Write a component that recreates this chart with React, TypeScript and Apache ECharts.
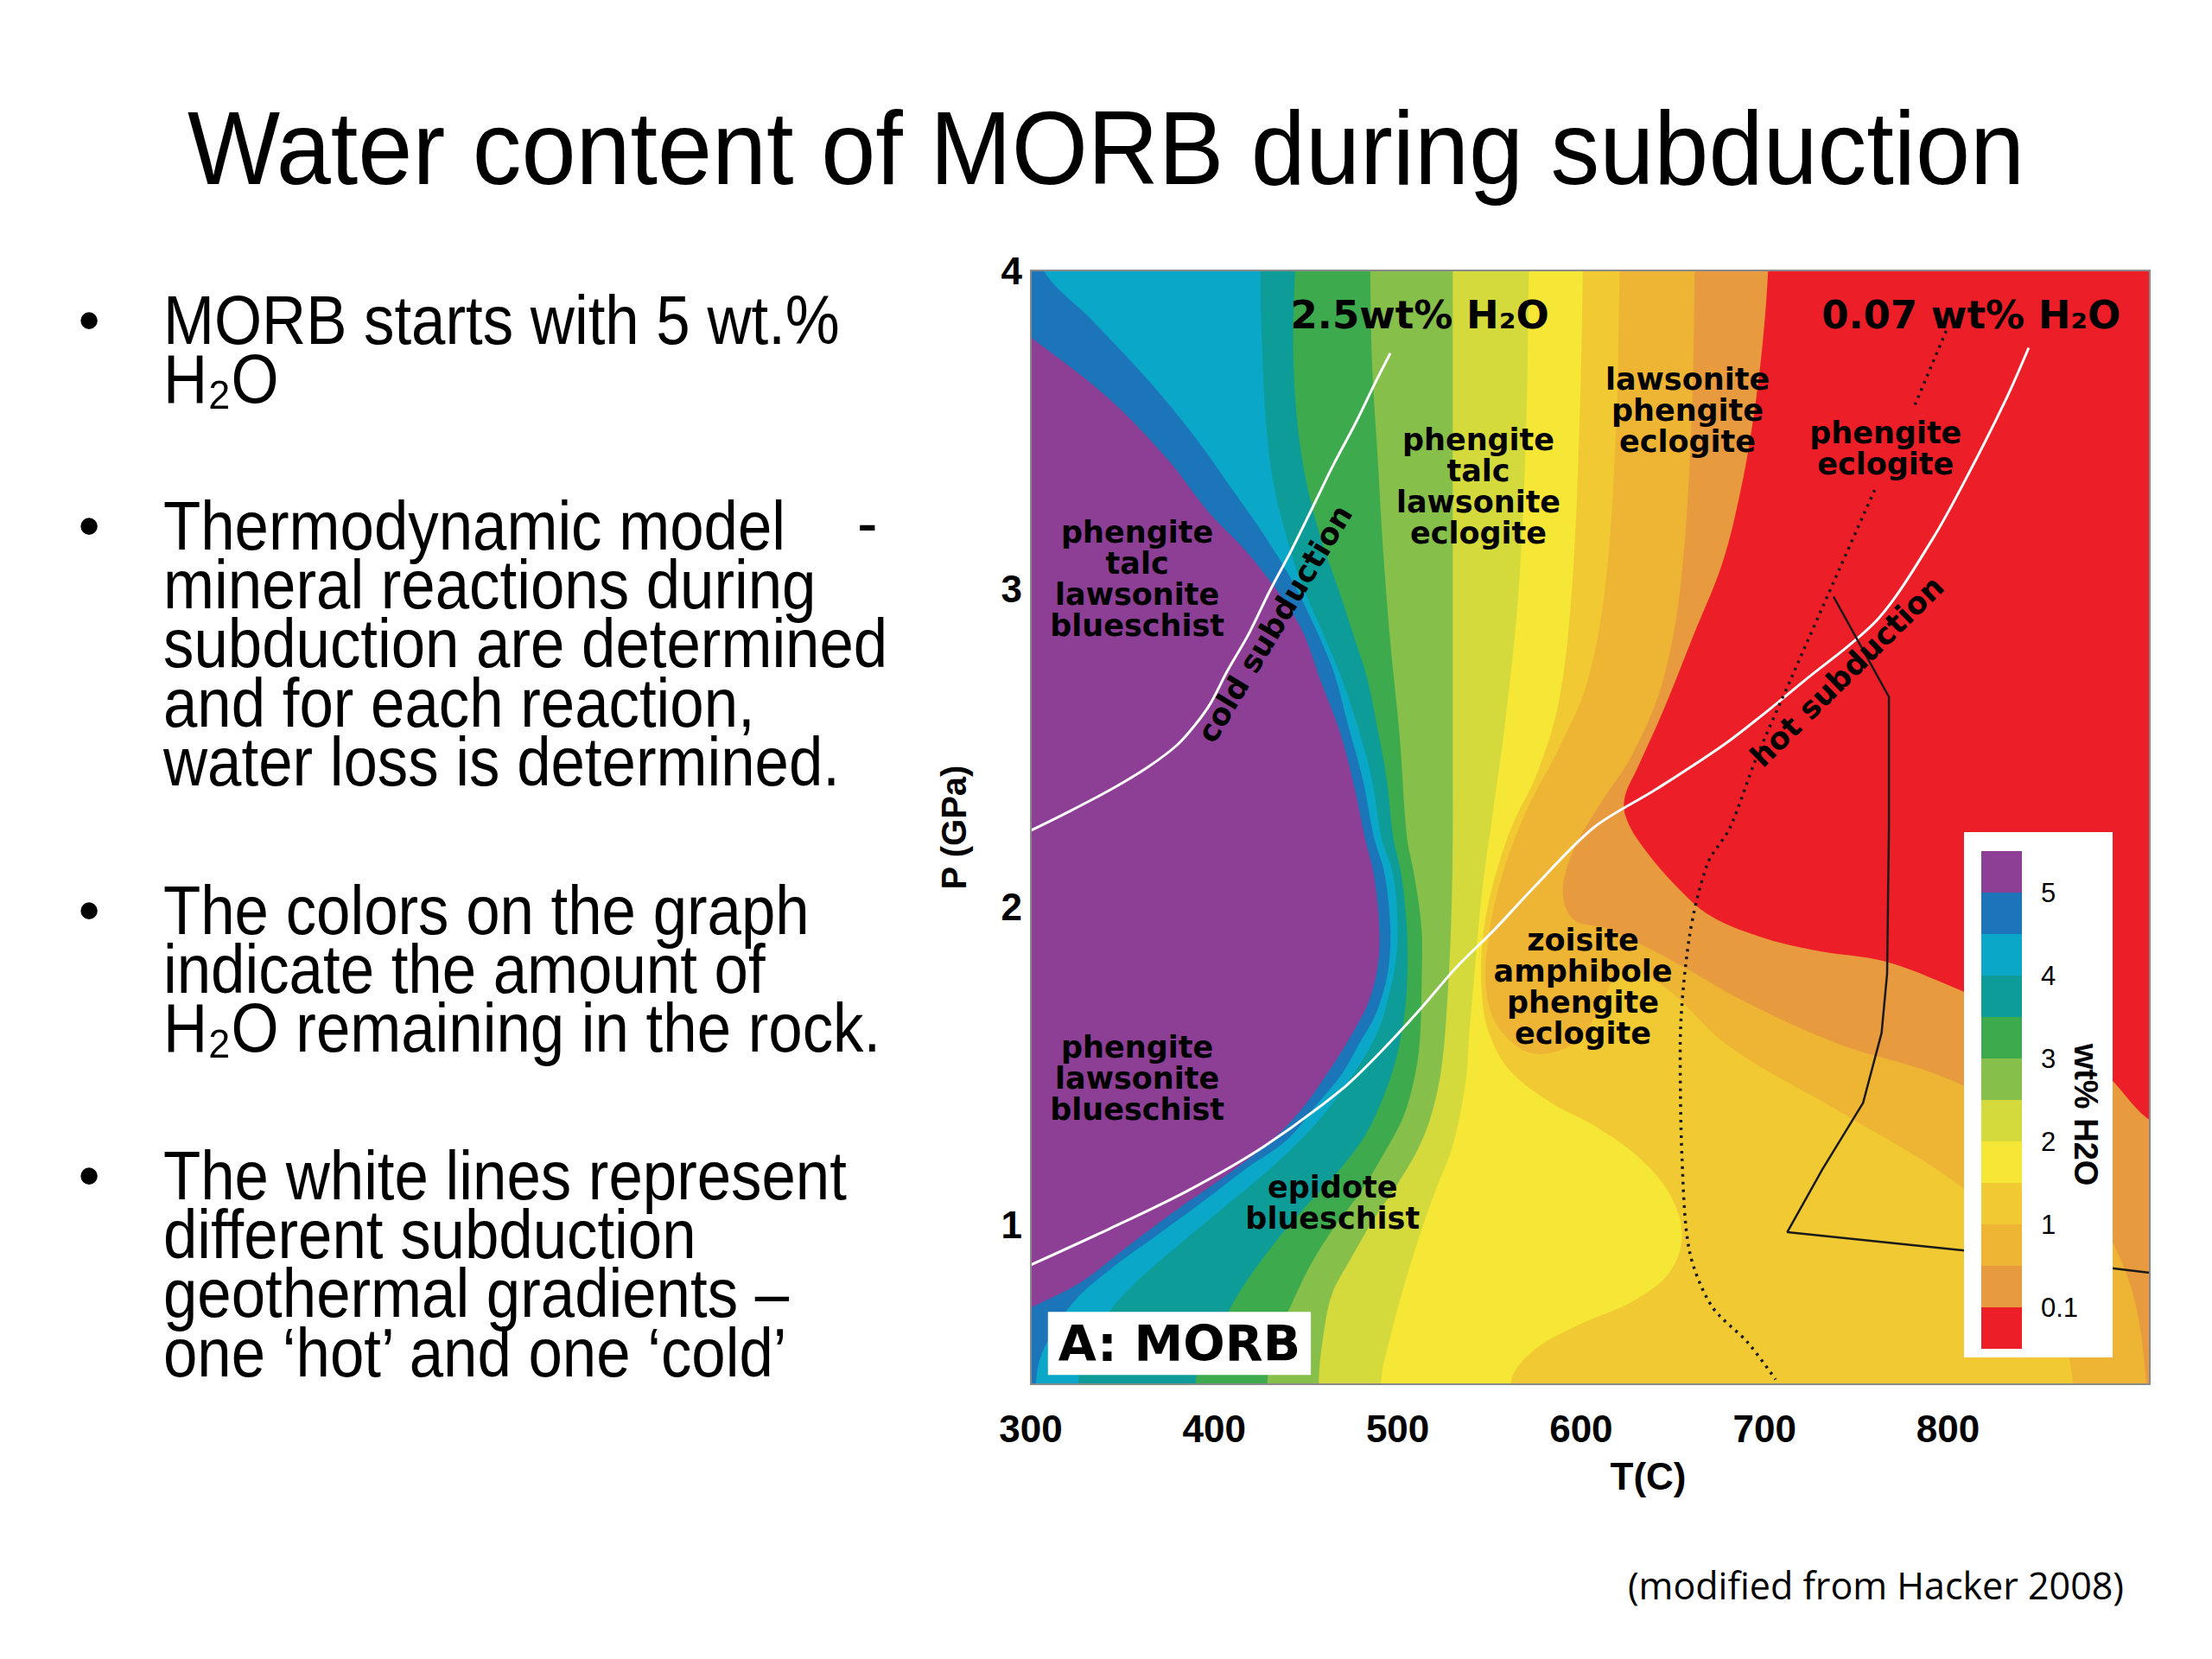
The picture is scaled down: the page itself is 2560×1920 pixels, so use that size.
import React, { useEffect, useRef } from 'react';
import * as echarts from 'echarts';

// ---------------- axes ----------------
const T_MIN = 300;
const T_MAX = 910;
const P_MIN = 0.5;
const P_MAX = 4.0;
const xTickLabels = [300, 400, 500, 600, 700, 800];
const yTickLabels = [1, 2, 3, 4];

// ---------------- colour bands (wettest -> driest) ----------------
const bandColors = [
  '#8D3E95', // purple  (>5)
  '#1B75B8', // dark blue
  '#0BA7C8', // cyan
  '#0E9C98', // teal
  '#3DAA4E', // green
  '#86BF4A', // light green
  '#D5DA3C', // yellow green
  '#F6E636', // yellow
  '#F1C932', // gold
  '#EEB535', // orange gold
  '#E89A3E', // orange
  '#EC1E27', // red (<0.1)
];
const legendTickLabels = ['5', '4', '3', '2', '1', '0.1'];
const legendTickBoundary = [1, 3, 5, 7, 9, 11];

// ---------------- band boundaries [T (C), P (GPa)] ----------------
const purpleEdge = [[300,3.79],[342,3.6],[374,3.41],[397,3.24],[420,3.1],[446,2.89],[458,2.71],[469,2.54],[477,2.36],[482,2.22],[487,2.1],[490,1.93],[489,1.81],[484,1.7],[475,1.6],[462,1.48],[447,1.36],[430,1.26],[405,1.15],[380,1.05],[352,0.93],[327,0.82],[300,0.74]];
const darkBlueEdge = [[306,4.01],[334,3.84],[364,3.655],[389,3.48],[410,3.31],[427,3.17],[442,3.03],[454,2.89],[465,2.74],[473,2.57],[481,2.4],[487,2.22],[493,2.1],[496,1.93],[495,1.81],[492,1.73],[487,1.65],[480,1.58],[469,1.47],[456,1.38],[440,1.27],[418,1.18],[393,1.07],[368,0.965],[343,0.86],[322,0.75],[307,0.61],[303,0.515]];
const cyanEdge = [[425,4.01],[426,3.77],[428,3.54],[432,3.34],[440,3.15],[448,3.01],[458.5,2.87],[469,2.725],[478.5,2.56],[486,2.4],[491,2.22],[497.5,2.1],[500,1.93],[498.5,1.81],[495,1.72],[490,1.62],[482,1.53],[471,1.435],[458.5,1.34],[444,1.25],[425,1.15],[404,1.05],[381,0.94],[360,0.835],[343,0.73],[330,0.61],[326,0.515]];
const tealEdge = [[444,4.01],[443,3.77],[445,3.54],[450,3.34],[458.5,3.15],[467,3.01],[475,2.87],[483,2.725],[489,2.56],[494,2.4],[497.5,2.22],[502,2.1],[505,1.93],[505,1.75],[503,1.635],[499,1.52],[492,1.4],[482,1.28],[467,1.165],[448,1.047],[431,0.93],[416,0.81],[404,0.69],[393,0.576],[390,0.515]];
const greenEdge = [[485,4.01],[486,3.71],[489,3.42],[492,3.125],[496,2.83],[501,2.54],[505,2.22],[509,2.1],[513,1.93],[513,1.75],[512,1.576],[509,1.46],[503,1.34],[492,1.22],[480,1.106],[465,0.99],[452,0.87],[442,0.75],[433,0.635],[429,0.515]];
const lightGreenEdge = [[530,4.01],[530,3.5],[530,3.0],[530,2.5],[530,2.2],[529,1.93],[527,1.7],[524,1.5],[519,1.36],[512,1.25],[500,1.13],[486,1.01],[474,0.89],[464,0.78],[459,0.635],[457,0.515]];
const yellowGreenEdge = [[571.5,4.01],[570,3.5],[566,3.0],[559,2.6],[552,2.3],[546,2.05],[542,1.8],[539,1.6],[537,1.45],[530,1.25],[520,1.1],[511,0.95],[503,0.8],[496,0.65],[491,0.515]];
const yellowEdge = [[601,4.01],[599,3.5],[595,3.0],[588,2.65],[576,2.42],[562,2.25],[551,2.05],[546,1.88],[546,1.72],[550,1.6],[562,1.48],[585,1.38],[605,1.32],[630,1.22],[648,1.1],[655,0.97],[648,0.85],[628,0.76],[600,0.69],[575,0.61],[562,0.515]];
const goldEdge = [[621,4.01],[619,3.5],[613,3.0],[603,2.7],[588,2.5],[570,2.3],[557,2.1],[550,1.92],[548,1.75],[555,1.62],[573,1.54],[596,1.57],[610,1.68],[622,1.8],[645,1.75],[681,1.56],[740,1.36],[800,1.15],[840,0.95],[860,0.7],[868,0.515]];
const orangeEdge = [[662,4.01],[660,3.5],[654,3.0],[644,2.7],[628,2.48],[610,2.32],[596,2.18],[590,2.05],[596,1.96],[615,1.93],[650,1.83],[690,1.7],[740,1.57],[800,1.46],[850,1.3],[880,1.05],[900,0.8],[908,0.515]];
const redEdge = [[702,4.01],[699,3.775],[694,3.54],[687,3.31],[677,3.08],[661,2.85],[645,2.62],[631,2.44],[624,2.35],[624,2.29],[631,2.21],[651,2.07],[671,1.97],[701,1.9],[731,1.86],[765,1.83],[802,1.75],[852,1.62],[885,1.48],[910,1.33]];

// ---------------- lines ----------------
const coldSubduction = [[300,2.24],[321,2.3],[344,2.37],[364,2.44],[380,2.51],[390,2.575],[398,2.64],[407,2.74],[419,2.86],[430,2.99],[442,3.12],[454,3.26],[465,3.39],[477,3.52],[488,3.65],[496,3.74]];
const hotSubduction = [[300,0.875],[342.7,0.988],[384.8,1.106],[427,1.247],[469,1.424],[490,1.54],[511,1.67],[532,1.81],[553,1.93],[574,2.06],[607,2.25],[641,2.37],[681,2.523],[721.5,2.71],[762,2.906],[792,3.16],[812,3.37],[832,3.6],[844,3.757]];
const solidBlackLine = [[737.6,2.975],[767.8,2.66],[767.8,2.25],[766.8,1.79],[763.8,1.604],[753.7,1.384],[731.5,1.175],[712.4,0.978],[809,0.92],[910,0.85]];
const dottedLineUpper = [[799,3.81],[782,3.578]];
const dottedLineLower = [[760,3.31],[737.6,3.02],[715.4,2.73],[695.3,2.465],[681,2.247],[669,2.137],[659,1.905],[654,1.558],[655,1.21],[659,0.92],[671,0.747],[691,0.63],[706,0.515]];

// ---------------- labels ----------------
const zoneLabels = [
  { text: '2.5wt% H₂O', t: 512, p: 3.86, size: 45, rot: 0 },
  { text: '0.07 wt% H₂O', t: 812.6, p: 3.86, size: 45, rot: 0 },
  { text: 'phengite\ntalc\nlawsonite\nblueschist', t: 358, p: 3.03, size: 35, rot: 0 },
  { text: 'phengite\ntalc\nlawsonite\neclogite', t: 544, p: 3.32, size: 35, rot: 0 },
  { text: 'lawsonite\nphengite\neclogite', t: 658, p: 3.56, size: 35, rot: 0 },
  { text: 'phengite\neclogite', t: 766, p: 3.44, size: 35, rot: 0 },
  { text: 'phengite\nlawsonite\nblueschist', t: 358, p: 1.46, size: 35, rot: 0 },
  { text: 'zoisite\namphibole\nphengite\neclogite', t: 601, p: 1.75, size: 35, rot: 0 },
  { text: 'epidote\nblueschist', t: 464.5, p: 1.07, size: 35, rot: 0 },
  { text: 'cold subduction', t: 433, p: 2.89, size: 35, rot: 59 },
  { text: 'hot subduction', t: 745, p: 2.74, size: 35, rot: 44.5 },
  { text: 'A: MORB', t: 381, p: 0.628, size: 57, rot: 0, box: true },
];

const titleText = 'Water content of MORB during subduction';
const bulletGroups = [
  ['MORB starts with 5 wt.%', 'H₂O'],
  ['Thermodynamic model', 'mineral reactions during', 'subduction are determined', 'and for each reaction,', 'water loss is determined.'],
  ['The colors on the graph', 'indicate the amount of', 'H₂O remaining in the rock.'],
  ['The white lines represent', 'different subduction', 'geothermal gradients –', 'one ‘hot’ and one ‘cold’'],
];
const citationText = '(modified from Hacker 2008)';

// ---------------- layout ----------------
const GRID = { left: 1193, top: 313, width: 1295, height: 1289 };
const LABEL_FONT = '"DejaVu Sans", "Liberation Sans", sans-serif';
const SANS = '"Liberation Sans", Arial, Helvetica, sans-serif';

// polygons built from the boundaries (extend a little outside the plot, clipped)
const OUT_T = 12;
const OUT_P = 0.15;
const topOut = P_MAX + OUT_P;
const botOut = P_MIN - OUT_P;
const leftOut = T_MIN - OUT_T;
const rightOut = T_MAX + OUT_T;

function leftOf(edge: number[][]) {
  const last = edge[edge.length - 1];
  return [[leftOut, topOut], [edge[0][0], topOut], ...edge, [last[0], botOut], [leftOut, botOut]];
}
function rightOfToBottom(edge: number[][]) {
  const last = edge[edge.length - 1];
  return [[edge[0][0], topOut], ...edge, [last[0], botOut], [rightOut, botOut], [rightOut, topOut]];
}
function rightOfToRight(edge: number[][]) {
  const last = edge[edge.length - 1];
  return [[edge[0][0], topOut], ...edge, [rightOut, last[1]], [rightOut, topOut]];
}

const regions = [
  { color: bandColors[8], pts: [[leftOut, topOut], [rightOut, topOut], [rightOut, botOut], [leftOut, botOut]], smooth: 0 },
  { color: bandColors[9], pts: rightOfToBottom(goldEdge), smooth: 0.35 },
  { color: bandColors[10], pts: rightOfToBottom(orangeEdge), smooth: 0.35 },
  { color: bandColors[11], pts: rightOfToRight(redEdge), smooth: 0.35 },
  { color: bandColors[7], pts: leftOf(yellowEdge), smooth: 0.35 },
  { color: bandColors[6], pts: leftOf(yellowGreenEdge), smooth: 0.35 },
  { color: bandColors[5], pts: leftOf(lightGreenEdge), smooth: 0.35 },
  { color: bandColors[4], pts: leftOf(greenEdge), smooth: 0.35 },
  { color: bandColors[3], pts: leftOf(tealEdge), smooth: 0.35 },
  { color: bandColors[2], pts: leftOf(cyanEdge), smooth: 0.35 },
  { color: bandColors[1], pts: leftOf(darkBlueEdge), smooth: 0.35 },
  { color: bandColors[0], pts: [[leftOut, 3.84], ...purpleEdge, [leftOut, 0.7]], smooth: 0.35 },
];

function txt(text: string, x: number, y: number, o: any = {}) {
  return {
    type: 'text',
    x,
    y,
    z: 100,
    scaleX: o.scaleX ?? 1,
    rotation: o.rotation ?? 0,
    style: {
      text,
      fill: o.fill ?? '#000',
      fontSize: o.size ?? 80,
      fontFamily: o.family ?? SANS,
      fontWeight: o.weight ?? 'normal',
      align: o.align ?? 'left',
      textAlign: o.align ?? 'left',
      verticalAlign: 'middle',
      textVerticalAlign: 'middle',
    },
  };
}

function buildGraphics() {
  const g: any[] = [];
  g.push(txt(titleText, 1280, 171, { size: 120, align: 'center', scaleX: 0.945 }));
  const starts = [370, 608, 1053, 1360];
  const lineGap = 68.4;
  bulletGroups.forEach((lines, gi) => {
    g.push(txt('•', 103, starts[gi], { size: 72, align: 'center' }));
    lines.forEach((line, li) => {
      g.push(txt(line, 189, starts[gi] + li * lineGap, { size: 80, scaleX: 0.885 }));
    });
  });
  g.push(txt('-', 992, 604, { size: 80, scaleX: 0.885 }));
  g.push(txt(citationText, 2458, 1834, { size: 43, align: 'right', family: '"Open Sans", "Liberation Sans", sans-serif' }));

  // plot frame
  g.push({
    type: 'rect', z: 90,
    shape: { x: GRID.left, y: GRID.top, width: GRID.width, height: GRID.height },
    style: { fill: 'none', stroke: '#8a8a8a', lineWidth: 2 },
  });

  // colour bar legend
  const boxX = 2273, boxY = 963, boxW = 172, boxH = 608;
  const swX = 2293, swY = 985, swW = 47, swH = 48;
  g.push({ type: 'rect', z: 95, shape: { x: boxX, y: boxY, width: boxW, height: boxH }, style: { fill: '#fff' } });
  bandColors.forEach((c, i) => {
    g.push({ type: 'rect', z: 96, shape: { x: swX, y: swY + i * swH, width: swW, height: swH }, style: { fill: c } });
  });
  legendTickLabels.forEach((l, i) => {
    g.push(txt(l, 2362, swY + legendTickBoundary[i] * swH, { size: 31 }));
  });
  g.push(txt('wt% H2O', 2414, 1290, { size: 38, weight: 'bold', align: 'center', rotation: -Math.PI / 2 }));
  return g;
}

function buildOption() {
  return {
    animation: false,
    backgroundColor: '#ffffff',
    grid: { left: GRID.left, top: GRID.top, width: GRID.width, height: GRID.height, containLabel: false },
    xAxis: {
      type: 'value',
      min: T_MIN,
      max: T_MAX,
      interval: 100,
      name: 'T(C)',
      nameLocation: 'middle',
      nameGap: 84,
      nameTextStyle: { fontFamily: SANS, fontWeight: 'bold', fontSize: 44, color: '#000', padding: [0, 0, 0, 134], lineHeight: 44 },
      axisLine: { show: false },
      axisTick: { show: false },
      splitLine: { show: false },
      axisLabel: {
        margin: 29,
        fontFamily: SANS,
        fontWeight: 'bold',
        fontSize: 44,
        lineHeight: 44,
        color: '#000',
        showMaxLabel: false,
        formatter: (v: number) => (xTickLabels.indexOf(v) >= 0 ? String(v) : ''),
      },
    },
    yAxis: {
      type: 'value',
      min: P_MIN,
      max: P_MAX,
      interval: 0.5,
      name: 'P (GPa)',
      nameLocation: 'middle',
      nameGap: 69,
      nameRotate: 90,
      nameTextStyle: { fontFamily: SANS, fontWeight: 'bold', fontSize: 40, color: '#000' },
      axisLine: { show: false },
      axisTick: { show: false },
      splitLine: { show: false },
      axisLabel: {
        margin: 10,
        fontFamily: SANS,
        fontWeight: 'bold',
        fontSize: 44,
        color: '#000',
        formatter: (v: number) => (yTickLabels.indexOf(v) >= 0 ? String(v) : ''),
      },
    },
    graphic: buildGraphics(),
    series: [
      {
        type: 'custom',
        name: 'water bands',
        clip: true,
        z: 1,
        silent: true,
        data: regions.map((r) => r.pts[0]),
        renderItem: (params: any, api: any) => {
          const r = regions[params.dataIndex];
          const points = r.pts.map((p) => api.coord(p));
          return {
            type: 'polygon',
            shape: { points, smooth: r.smooth },
            style: { fill: r.color },
          };
        },
      },
      {
        type: 'line', name: 'cold subduction', z: 3, data: coldSubduction, smooth: 0.3,
        showSymbol: false, symbol: 'none', lineStyle: { color: '#ffffff', width: 3 },
      },
      {
        type: 'line', name: 'hot subduction', z: 3, data: hotSubduction, smooth: 0.3,
        showSymbol: false, symbol: 'none', lineStyle: { color: '#ffffff', width: 3 },
      },
      {
        type: 'line', name: 'solid', z: 3, data: solidBlackLine, smooth: false,
        showSymbol: false, symbol: 'none', lineStyle: { color: '#1a1a1a', width: 2.5 },
      },
      {
        type: 'line', name: 'dotted upper', z: 3, data: dottedLineUpper, smooth: false,
        showSymbol: false, symbol: 'none', lineStyle: { color: '#1a1a1a', width: 3.5, type: [3, 6] },
      },
      {
        type: 'line', name: 'dotted lower', z: 3, data: dottedLineLower, smooth: 0.3,
        showSymbol: false, symbol: 'none', lineStyle: { color: '#1a1a1a', width: 3.5, type: [3, 6] },
      },
      {
        type: 'custom',
        name: 'labels',
        z: 5,
        silent: true,
        data: zoneLabels.map((l) => [l.t, l.p]),
        renderItem: (params: any, api: any) => {
          const l: any = zoneLabels[params.dataIndex];
          const pt = api.coord([l.t, l.p]);
          const style: any = {
            text: l.text,
            fill: '#000',
            fontSize: l.size,
            fontWeight: 'bold',
            fontFamily: LABEL_FONT,
            align: 'center',
            verticalAlign: 'middle',
            lineHeight: Math.round(l.size * 1.03),
          };
          if (l.box) {
            style.backgroundColor = '#ffffff';
            style.padding = [9, 12, 5, 12];
          }
          return {
            type: 'text',
            x: pt[0],
            y: pt[1],
            rotation: (l.rot * Math.PI) / 180,
            style,
          };
        },
      },
    ],
  };
}

export default function App() {
  const ref = useRef<HTMLDivElement>(null);
  useEffect(() => {
    if (!ref.current) return;
    const chart = echarts.init(ref.current, null, { renderer: 'svg' });
    chart.setOption(buildOption() as any);
    return () => chart.dispose();
  }, []);
  return (
    <div
      ref={ref}
      style={{ position: 'fixed', left: 0, top: 0, width: 2560, height: 1920, background: '#ffffff' }}
    />
  );
}
